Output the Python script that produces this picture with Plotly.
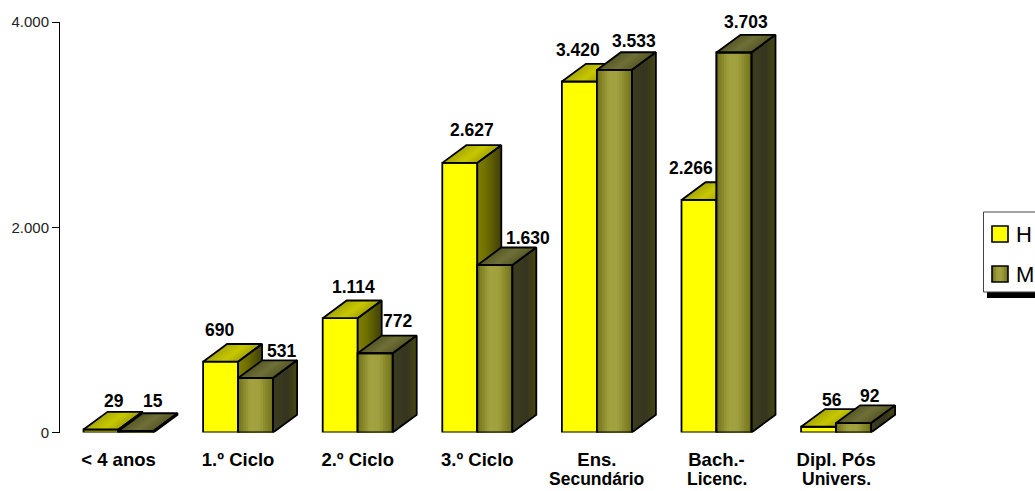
import plotly.graph_objects as go

# ---- data ----
cat_line1 = ["< 4 anos", "1.º Ciclo", "2.º Ciclo", "3.º Ciclo", "Ens.", "Bach.-", "Dipl. Pós"]
cat_line2 = ["", "", "", "", "Secundário", "Licenc.", "Univers."]
homens = [29, 690, 1114, 2627, 3420, 2266, 56]
mulheres = [15, 531, 772, 1630, 3533, 3703, 92]
y_ticks = [0, 2000, 4000]
y_ticklabels = ["0", "2.000", "4.000"]
legend_names = ["H", "M"]

# ---- label nudges in pixels (from the bar's top centre) ----
h_shift = [(13, 28.5), (-1.6, 31.7), (13, 31), (12, 33), (-1.4, 31.5), (-8, 32), (13.4, 27)]
m_shift = [(17, 30), (25.4, 27), (22, 32), (33, 27), (19.6, 29), (12, 30.5), (16.4, 27)]

# ---- geometry ----
W, H = 1035, 491
PX_L, PX_R, PX_T, PX_B = 60, 960, 22, 432.5
PITCH = 119.6
ORIGIN = 118.5
X_RANGE = [(PX_L - ORIGIN) / PITCH, (PX_R - ORIGIN) / PITCH]
BAR_W = 35 / PITCH
DEPTH_X = 24 / PITCH
DEPTH_Y = 17.7 * 4000 / (PX_B - PX_T)
FONT = "Liberation Sans"
STRIPS = 14
EDGE = 1.8


def fmt(v):
    return f"{v:,}".replace(",", ".")


def lerp_colour(stops, t):
    for (t0, c0), (t1, c1) in zip(stops, stops[1:]):
        if t <= t1:
            f = (t - t0) / (t1 - t0)
            return "rgb(%d,%d,%d)" % tuple(round(a + (b - a) * f) for a, b in zip(c0, c1))
    return "rgb(%d,%d,%d)" % stops[-1][1]


H_TOP = [(0, (0xA8, 0xA8, 0x00)), (0.55, (0xC8, 0xC8, 0x00)), (1, (0xA4, 0xA4, 0x00))]
H_SIDE = [(0, (0x80, 0x80, 0x00)), (0.35, (0x70, 0x70, 0x00)), (1, (0x40, 0x40, 0x08))]
M_TOP = [(0, (0x58, 0x58, 0x28)), (0.5, (0x70, 0x70, 0x38)), (1, (0x58, 0x58, 0x28))]
M_SIDE = [(0, (0x3C, 0x3C, 0x20)), (0.6, (0x36, 0x36, 0x20)), (1, (0x48, 0x48, 0x10))]
M_FRONT = [(0, (0x70, 0x70, 0x18)), (0.35, (0xA2, 0xA2, 0x40)), (0.6, (0xA0, 0xA0, 0x3E)), (1, (0x70, 0x70, 0x18))]


def top_face(xl, v, t=0.0):
    xs = xl + t * BAR_W
    return [xs, xl + BAR_W, xl + BAR_W + DEPTH_X, xs + DEPTH_X, xs], [v, v, v + DEPTH_Y, v + DEPTH_Y, v]


def side_face(xl, v, t=0.0):
    xr = xl + BAR_W
    xs, ys = xr + t * DEPTH_X, t * DEPTH_Y
    return [xs, xs, xr + DEPTH_X, xr + DEPTH_X, xs], [ys, v + ys, v + DEPTH_Y, DEPTH_Y, ys]


def front_face(xl, v, t=0.0):
    xs = xl + t * BAR_W
    return [xs, xs, xl + BAR_W, xl + BAR_W, xs], [0, v, v, 0, 0]


def join(face, lefts, values, t=0.0):
    xs, ys = [], []
    for xl, v in zip(lefts, values):
        px_, py_ = face(xl, v, t)
        xs += px_ + [None]
        ys += py_ + [None]
    return xs, ys


fig = go.Figure()


def add_gradient(face, lefts, values, stops, xa, ya):
    for k in range(STRIPS):
        t = k / STRIPS
        xs, ys = join(face, lefts, values, t)
        fig.add_trace(go.Scatter(x=xs, y=ys, mode="lines", fill="toself", line=dict(width=0),
                                 fillcolor=lerp_colour(stops, t + 0.5 / STRIPS),
                                 hoverinfo="skip", xaxis=xa, yaxis=ya, cliponaxis=False))


def add_outline(face, lefts, values, xa, ya):
    xs, ys = join(face, lefts, values)
    fig.add_trace(go.Scatter(x=xs, y=ys, mode="lines", line=dict(color="#000", width=EDGE),
                             hoverinfo="skip", xaxis=xa, yaxis=ya, cliponaxis=False))


idx = list(range(len(homens)))
h_left = [i - BAR_W for i in idx]
m_left = [float(i) for i in idx]

# Homens: first layer
fig.add_trace(go.Bar(x=[i - BAR_W / 2 for i in idx], y=homens, width=BAR_W, name=legend_names[0],
                     marker=dict(color="#FFFF00", line=dict(color="#000", width=EDGE)),
                     cliponaxis=False, xaxis="x", yaxis="y"))
add_gradient(top_face, h_left, homens, H_TOP, "x", "y")
add_gradient(side_face, h_left, homens, H_SIDE, "x", "y")
add_outline(top_face, h_left, homens, "x", "y")
add_outline(side_face, h_left, homens, "x", "y")

# Mulheres: second layer, painted above Homens
fig.add_trace(go.Bar(x=[i + BAR_W / 2 for i in idx], y=mulheres, width=BAR_W, name=legend_names[1],
                     marker=dict(color="#A0A03E", line=dict(color="#000", width=EDGE)),
                     cliponaxis=False, xaxis="x2", yaxis="y2"))
add_gradient(top_face, m_left, mulheres, M_TOP, "x2", "y2")
add_gradient(side_face, m_left, mulheres, M_SIDE, "x2", "y2")
add_gradient(front_face, m_left, mulheres, M_FRONT, "x2", "y2")
add_outline(top_face, m_left, mulheres, "x2", "y2")
add_outline(side_face, m_left, mulheres, "x2", "y2")
add_outline(front_face, m_left, mulheres, "x2", "y2")

annotations = []
for i in idx:
    for val, left, (sx, sy) in ((homens[i], h_left[i], h_shift[i]), (mulheres[i], m_left[i], m_shift[i])):
        annotations.append(dict(x=left + BAR_W / 2, y=val, xref="x", yref="y", text=fmt(val), showarrow=False,
                                xshift=sx, yshift=sy, xanchor="center", yanchor="middle",
                                font=dict(family=FONT, size=17.5, color="#000", weight="bold")))
    if cat_line2[i]:
        annotations.append(dict(x=i, y=(H - 479) / H, xref="x", yref="paper", text=cat_line2[i], showarrow=False,
                                xanchor="center", yanchor="middle", borderpad=0,
                                font=dict(family=FONT, size=17.5, color="#000", weight="bold")))


# ---- legend, drawn by hand because the reference runs off the page ----
def px(x):
    return x / W


def py(y):
    return 1 - y / H


shapes = [
    dict(type="rect", xref="paper", yref="paper", x0=px(987), x1=px(1060), y0=py(292), y1=py(298),
         fillcolor="#000", line=dict(width=0), layer="above"),
    dict(type="rect", xref="paper", yref="paper", x0=px(983.5), x1=px(1060), y0=py(212), y1=py(292),
         fillcolor="#fff", line=dict(color="#444", width=1), layer="above"),
    dict(type="rect", xref="paper", yref="paper", x0=px(992), x1=px(1008), y0=py(226), y1=py(242),
         fillcolor="#FFFF00", line=dict(color="#000", width=1.6), layer="above"),
]
N_GLYPH = 8
for k in range(N_GLYPH):
    t = k / N_GLYPH
    shapes.append(dict(type="rect", xref="paper", yref="paper", x0=px(992 + t * 16), x1=px(1008), y0=py(266), y1=py(282),
                       fillcolor=lerp_colour(M_FRONT, t + 0.5 / N_GLYPH), line=dict(width=0), layer="above"))
shapes.append(dict(type="rect", xref="paper", yref="paper", x0=px(992), x1=px(1008), y0=py(266), y1=py(282),
                   fillcolor="rgba(0,0,0,0)", line=dict(color="#000", width=1.6), layer="above"))
for name, yc in zip(legend_names, (234, 274)):
    annotations.append(dict(x=px(1018), y=py(yc), xref="paper", yref="paper", text=name, showarrow=False,
                            xanchor="left", yanchor="middle", xshift=-4,
                            font=dict(family=FONT, size=22, color="#000")))

axis_domain_x = [PX_L / W, PX_R / W]
axis_domain_y = [1 - PX_B / H, 1 - PX_T / H]
fig.update_layout(
    width=W, height=H, autosize=False, margin=dict(l=0, r=0, t=0, b=0),
    paper_bgcolor="#fff", plot_bgcolor="#fff", showlegend=False, barmode="overlay",
    xaxis=dict(domain=axis_domain_x, range=X_RANGE, tickmode="array", tickvals=idx, ticktext=cat_line1,
               showgrid=False, zeroline=False, showline=False, ticks="", ticklabelstandoff=14, automargin=False,
               tickfont=dict(family=FONT, size=18.5, color="#000", weight="bold")),
    yaxis=dict(domain=axis_domain_y, range=[0, 4000], tickmode="array", tickvals=y_ticks, ticktext=y_ticklabels,
               showgrid=False, zeroline=False, showline=True, linecolor="#000", linewidth=1, automargin=False,
               ticks="outside", ticklen=7, tickcolor="#000", tickwidth=1,
               tickfont=dict(family=FONT, size=15, color="#222")),
    xaxis2=dict(domain=axis_domain_x, range=X_RANGE, overlaying="x", visible=False, automargin=False),
    yaxis2=dict(domain=axis_domain_y, range=[0, 4000], overlaying="y", visible=False, automargin=False),
    annotations=annotations, shapes=shapes,
)

fig.write_html("out.html", config={"displayModeBar": False},
               post_script="document.body.style.margin='0';document.body.style.overflow='hidden';")
